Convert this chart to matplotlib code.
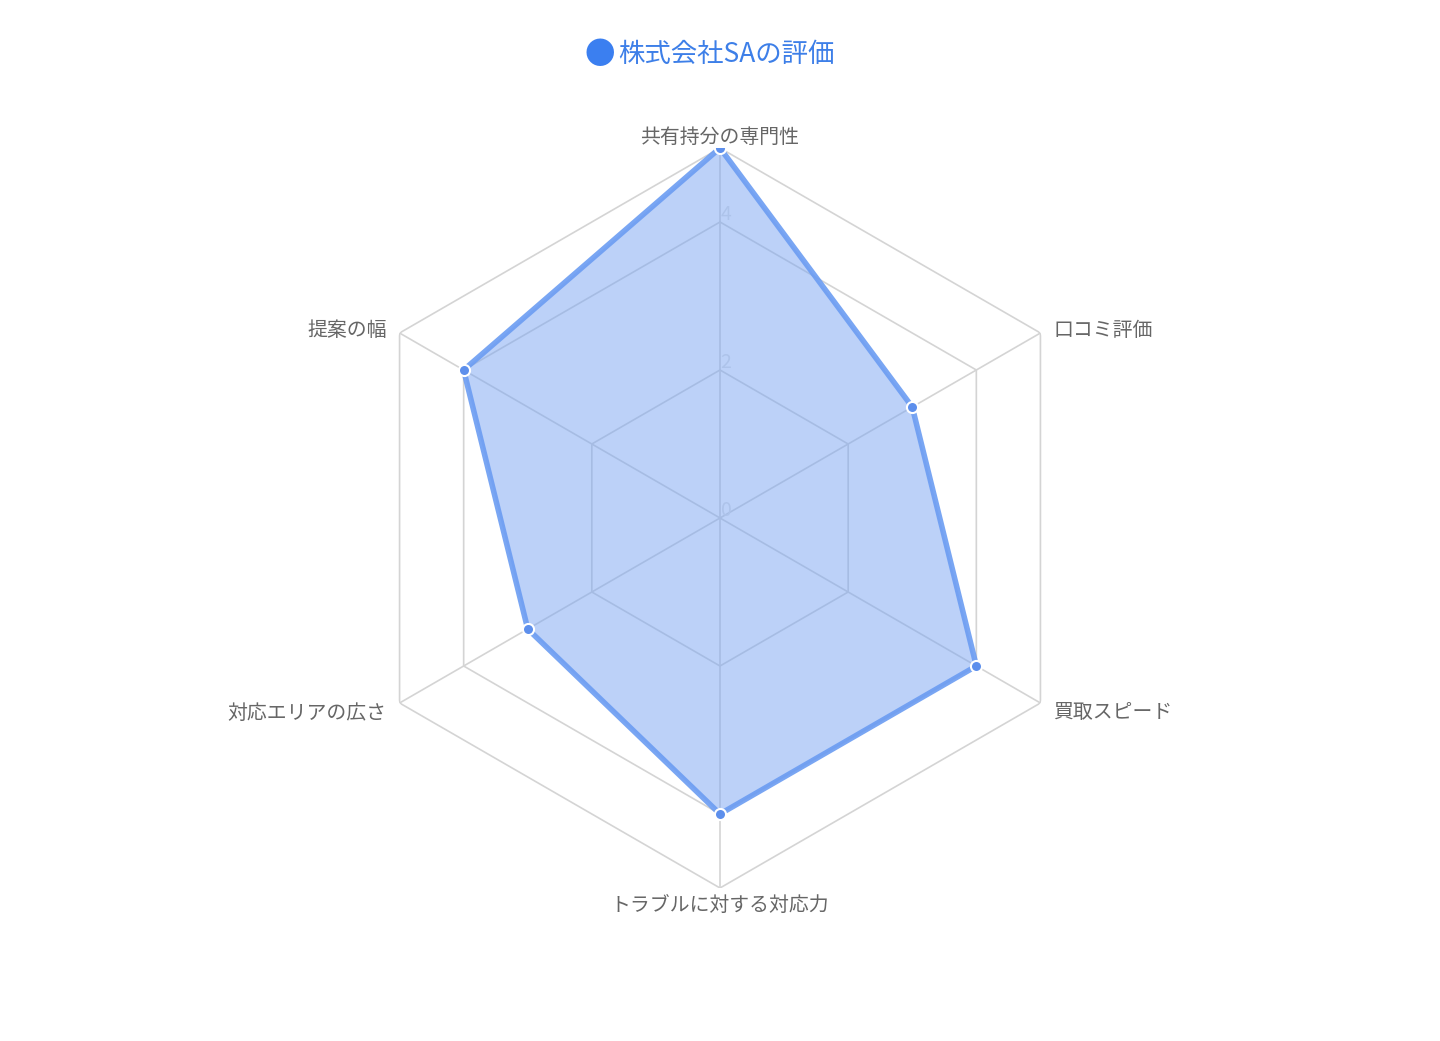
import numpy as np
import matplotlib
matplotlib.use("Agg")
import matplotlib.pyplot as plt

plt.rcParams['font.family'] = ['Noto Sans CJK JP', 'DejaVu Sans']

categories = ["共有持分の専門性", "口コミ評価", "買取スピード", "トラブルに対する対応力", "対応エリアの広さ", "提案の幅"]
values = [5, 3, 4, 4, 3, 4]
grid_levels = [2, 4, 5]
tick_values = [0, 2, 4]
r_max = 5
title = "株式会社SAの評価"

# label offsets in pixels (dx, dy, ha)
label_offsets = [(0, 11, 'center'), (13, 3, 'left'), (13, -10, 'left'),
                 (0, -17, 'center'), (-13, -10, 'right'), (-13, 3, 'right')]

fig = plt.figure(figsize=(14.4, 10.41), dpi=100)
cx, cy = 0.5, 1 - 518 / 1041
rx, ry = 370 / 1440, 370 / 1041
ax = fig.add_axes([cx - rx, cy - ry, 2 * rx, 2 * ry], projection='polar')
ax.set_theta_offset(np.pi / 2)
ax.set_theta_direction(-1)
ax.set_ylim(0, r_max)
ax.grid(False)
ax.spines['polar'].set_visible(False)
ax.set_xticks([])
ax.set_yticks([])
ax.patch.set_alpha(0)

n = len(categories)
theta = np.arange(n) * 2 * np.pi / n
theta_c = np.append(theta, theta[0])

# hexagonal grid
for lv in grid_levels:
    ax.plot(theta_c, [lv] * (n + 1), color='#d4d4d4', lw=1.2, zorder=1)
for t in theta:
    ax.plot([t, t], [0, r_max], color='#d4d4d4', lw=1.2, zorder=1)

# radial tick labels
for tv in tick_values:
    ax.annotate(str(tv), xy=(0, tv), xytext=(6, 8), textcoords='offset pixels',
                ha='center', va='center', fontsize=14, color='#e2e2e2', zorder=1.5)

vals_c = np.append(values, values[0])
ax.fill(theta_c, vals_c, color='#7aa5f2', alpha=0.5, zorder=2, lw=0)
ax.plot(theta_c, vals_c, color='#6b9cf2', lw=4, alpha=0.9, zorder=3,
        solid_joinstyle='round')
ax.plot(theta, values, 'o', ms=8, markerfacecolor='#5d8fec',
        markeredgecolor='white', markeredgewidth=1.5, zorder=4, ls='none')

for t, lab, (dx, dy, ha) in zip(theta, categories, label_offsets):
    ax.annotate(lab, xy=(t, r_max), xytext=(dx, dy), textcoords='offset pixels',
                ha=ha, va='center', fontsize=14.3, color='#666666',
                annotation_clip=False)

fig.text(600 / 1440, 1 - 55 / 1041, "●", ha='center', va='center',
         fontsize=22, color='#3b7ff0')
fig.text(618 / 1440, 1 - 54 / 1041, title, ha='left', va='center',
         fontsize=19, color='#3d7fe8')

fig.savefig("out.png", dpi=100)
